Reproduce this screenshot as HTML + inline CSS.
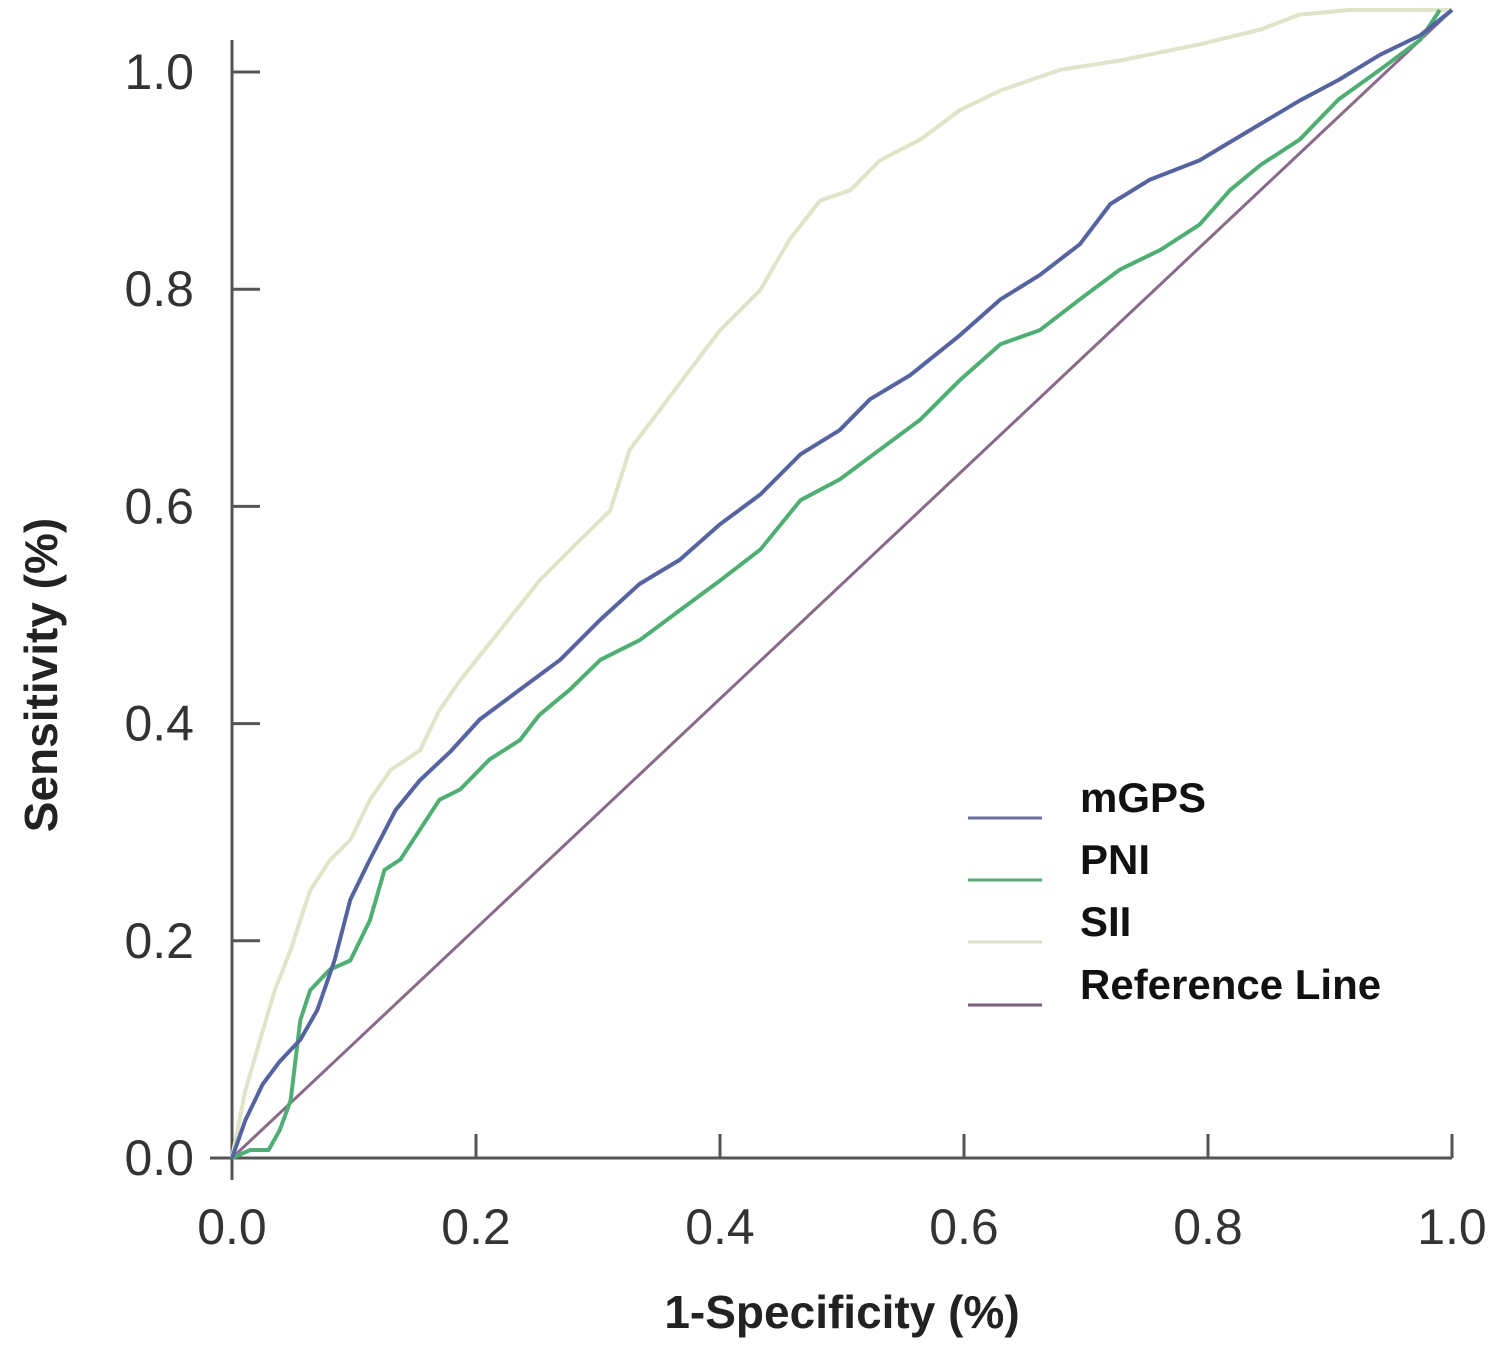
<!DOCTYPE html>
<html><head><meta charset="utf-8">
<style>
html,body{margin:0;padding:0;background:#fff;}
svg{display:block;}
text{font-family:"Liberation Sans",sans-serif;}
</style></head>
<body>
<svg id="chart" width="1500" height="1352" viewBox="0 0 1500 1352" xmlns="http://www.w3.org/2000/svg">
<g id="axes"></g>
<g id="series"></g>
<g id="legend"></g>
<text x="842" y="1328" text-anchor="middle" font-size="46" font-weight="bold" fill="#222">1-Specificity (%)</text>
<text transform="translate(57,675) rotate(-90)" text-anchor="middle" font-size="46" font-weight="bold" fill="#222">Sensitivity (%)</text>
</svg>
<script>
const xTicks=[0,0.2,0.4,0.6,0.8,1.0];
const yTicks=[0,0.2,0.4,0.6,0.8,1.0];
const tickLabels=["0.0","0.2","0.4","0.6","0.8","1.0"];
const mgpsX=[0,0.011,0.025,0.039,0.056,0.070,0.084,0.097,0.113,0.134,0.154,0.179,0.203,0.236,0.269,0.302,0.334,0.367,0.400,0.433,0.466,0.498,0.523,0.556,0.597,0.630,0.662,0.695,0.720,0.752,0.793,0.834,0.875,0.907,0.941,0.974,1];
const mgpsY=[0,0.033,0.064,0.084,0.103,0.129,0.172,0.225,0.260,0.303,0.329,0.354,0.382,0.408,0.434,0.469,0.500,0.521,0.552,0.578,0.613,0.634,0.661,0.682,0.717,0.748,0.769,0.796,0.831,0.852,0.869,0.895,0.921,0.939,0.961,0.978,1];
const pniX=[0,0.015,0.030,0.039,0.048,0.056,0.064,0.080,0.097,0.113,0.125,0.138,0.154,0.170,0.187,0.211,0.236,0.252,0.277,0.302,0.334,0.367,0.400,0.433,0.466,0.498,0.531,0.564,0.597,0.630,0.662,0.695,0.728,0.761,0.793,0.818,0.843,0.875,0.907,0.941,0.974,0.990];
const pniY=[0,0.007,0.007,0.024,0.050,0.120,0.146,0.164,0.172,0.207,0.251,0.260,0.286,0.312,0.321,0.347,0.364,0.386,0.408,0.434,0.451,0.477,0.503,0.530,0.573,0.591,0.617,0.643,0.678,0.709,0.721,0.748,0.774,0.791,0.813,0.843,0.865,0.887,0.922,0.948,0.974,1];
const siiX=[0,0.011,0.023,0.035,0.048,0.056,0.064,0.080,0.097,0.113,0.130,0.154,0.170,0.187,0.220,0.252,0.285,0.310,0.326,0.351,0.375,0.400,0.433,0.457,0.482,0.507,0.531,0.564,0.597,0.630,0.679,0.728,0.793,0.843,0.875,0.916,1];
const siiY=[0,0.059,0.103,0.146,0.181,0.207,0.233,0.259,0.277,0.312,0.338,0.355,0.390,0.416,0.460,0.503,0.538,0.564,0.617,0.652,0.686,0.721,0.756,0.800,0.834,0.843,0.869,0.887,0.913,0.930,0.948,0.956,0.970,0.983,0.996,1,1];
const refX=[0,1];
const refY=[0,1];
const legendNames=["mGPS","PNI","SII","Reference Line"];

const X0=232,XW=1220,Y0=1158;
function xs(v){return X0+v*XW;}
function yTickScale(v){return Y0-v*1086;}
function yData(v){return Y0-v*1148;}
const NS="http://www.w3.org/2000/svg";
function mk(tag,attrs,parent){const e=document.createElementNS(NS,tag);for(const k in attrs)e.setAttribute(k,attrs[k]);parent.appendChild(e);return e;}
const axes=document.getElementById('axes');
let yl=mk('line',{x1:X0,y1:Y0+22,x2:X0,y2:yTickScale(1)-32,stroke:"#555","stroke-width":3},axes);


let xl=mk('line',{x1:X0-22,y1:Y0,x2:xs(1),y2:Y0,stroke:"#555","stroke-width":3},axes);


xTicks.forEach((v,i)=>{
  if(i>0){let t=mk('line',{x1:xs(v),y1:Y0,x2:xs(v),y2:Y0-24,stroke:"#555","stroke-width":3},axes);
  
  }
  let lb=mk('text',{x:xs(v),y:1244,"text-anchor":"middle","font-size":50,fill:"#333"},axes);
  lb.textContent=tickLabels[i];
  
  
});
yTicks.forEach((v,i)=>{
  if(i>0){let t=mk('line',{x1:X0,y1:yTickScale(v),x2:X0+28,y2:yTickScale(v),stroke:"#555","stroke-width":3},axes);
  
  }
  let lb=mk('text',{x:194,y:yTickScale(v)+17,"text-anchor":"end","font-size":50,fill:"#333"},axes);
  lb.textContent=tickLabels[i];
  
  
});
const ser=document.getElementById('series');
function drawLine(xa,ya,color,w,name){
  const d=xa.map((x,i)=>(i?'L':'M')+xs(x).toFixed(1)+','+yData(ya[i]).toFixed(1)).join(' ');
  const p=mk('path',{d:d,fill:"none",stroke:color,"stroke-width":w,"stroke-linejoin":"round"},ser);
  
  
}
drawLine(refX,refY,"#8a6a8a",3,'reference-line');
drawLine(siiX,siiY,"#dfe5c9",4,'sii-curve');
drawLine(pniX,pniY,"#4fae74",4,'pni-curve');
drawLine(mgpsX,mgpsY,"#5564a0",4,'mgps-curve');
const leg=document.getElementById('legend');
const legColors=["#6a6f9e","#5aa47a","#dadfc6","#7a5f7e"];
const legY=[818,880,942,1005];
legendNames.forEach((n,i)=>{
  let l=mk('line',{x1:968,y1:legY[i],x2:1042,y2:legY[i],stroke:legColors[i],"stroke-width":3},leg);
  
  
  let t=mk('text',{x:1080,y:legY[i]-6,"font-size":42,"font-weight":"bold",fill:"#111"},leg);
  t.textContent=n;
  
  
});
</script>
</body></html>
